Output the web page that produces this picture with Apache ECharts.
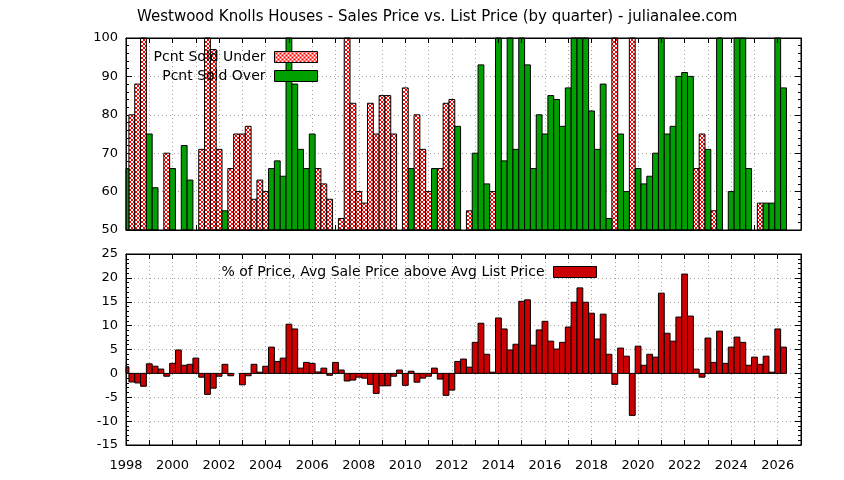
<!DOCTYPE html>
<html><head><meta charset="utf-8">
<script src="https://cdn.jsdelivr.net/npm/echarts@6/dist/echarts.min.js"></script>
<style>html,body{margin:0;padding:0;background:#fff}#c{width:844px;height:480px}</style>
</head><body><div id="c"></div>
<script>
// ---- data (one entry per quarter, starting 1998 Q1) ----
const startYear = 1998;
const endYear = 2027;
const quartersPerYear = 4;
const titleText = 'Westwood Knolls Houses - Sales Price vs. List Price (by quarter) - julianalee.com';
const nameUnder = 'Pcnt Sold Under';
const nameOver = 'Pcnt Sold Over';
const namePct = '% of Price, Avg Sale Price above Avg List Price';

const soldUnder = [
  null, 80, 88, 100, null, null, null, 70, null, null,
  null, null, null, 71, 100, 97, 71, null, 66, 75,
  75, 77, 58, 63, 60, null, null, null, null, null,
  null, null, null, 66, 62, 58, null, 53, 100, 83,
  60, 57, 83, 75, 85, 85, 75, null, 87, null,
  80, 71, 60, null, 66, 83, 84, null, null, 55,
  null, null, null, 60, null, null, null, null, null, null,
  null, null, null, null, null, null, null, null, null, null,
  null, null, null, null, 100, null, null, 100, null, null,
  null, null, null, null, null, null, null, null, 66, 75,
  null, 55, null, null, null, null, null, null, null, 57,
  null, null, null, null
];
const soldOver = [
  66, null, null, null, 75, 61, null, null, 66, null,
  72, 63, null, null, null, null, null, 55, null, null,
  null, null, null, null, null, 66, 68, 64, 100, 88,
  71, 66, 75, null, null, null, null, null, null, null,
  null, null, null, null, null, null, null, null, null, 66,
  null, null, null, 66, null, null, null, 77, null, null,
  70, 93, 62, null, 100, 68, 100, 71, 100, 93,
  66, 80, 75, 85, 84, 77, 87, 100, 100, 100,
  81, 71, 88, 53, null, 75, 60, null, 66, 62,
  64, 70, 100, 75, 77, 90, 91, 90, null, null,
  71, null, 100, null, 60, 100, 100, 66, null, null,
  57, 57, 100, 87
];
const pctAbove = [
  1.4, -1.8, -2.0, -2.7, 2.0, 1.5, 0.9, -0.6, 2.1, 4.9,
  1.7, 1.9, 3.2, -0.8, -4.4, -3.1, -0.6, 1.9, -0.5, null,
  -2.4, -0.5, 1.9, 0.25, 1.5, 5.5, 2.5, 3.2, 10.3, 9.3,
  1.1, 2.3, 2.1, 0.3, 1.1, -0.4, 2.3, 0.7, -1.6, -1.4,
  -0.8, -1.0, -2.3, -4.2, -2.6, -2.6, -0.6, 0.7, -2.5, 0.45,
  -1.85, -1.0, -0.6, 1.1, -1.2, -4.6, -3.5, 2.5, 3.0, 1.3,
  6.5, 10.5, 4.0, 0.25, 11.6, 9.3, 4.9, 6.1, 15.1, 15.4,
  5.9, 9.1, 10.9, 6.75, 5.1, 6.5, 9.7, 14.9, 17.9, 14.9,
  12.6, 7.2, 12.4, 4.0, -2.3, 5.3, 3.6, -8.8, 5.7, 1.7,
  4.0, 3.4, 16.8, 8.4, 6.75, 11.8, 20.8, 12.0, 0.9, -0.8,
  7.4, 2.3, 8.85, 2.1, 5.5, 7.6, 6.5, 1.7, 3.4, 1.9,
  3.6, 0.25, 9.3, 5.5
];

// ---- styling ----
const FONT = 'DejaVu Sans';
const FS = 13;
const W = 844, H = 480;
const gridLeft = 126, gridRight = 43;
const halfBox = 0.5 / quartersPerYear;

function hatch() {
  const c = document.createElement('canvas');
  c.width = 4; c.height = 4;
  const g = c.getContext('2d');
  g.fillStyle = '#ffffff'; g.fillRect(0, 0, 4, 4);
  g.fillStyle = '#ff0000';
  for (let i = 0; i < 4; i++) { g.fillRect(i, i, 1, 1); g.fillRect(3 - i, i, 1, 1); }
  return c;
}
const pinkFill = { image: hatch(), repeat: 'repeat' };

const toPairs = arr => arr.map((v, i) => [startYear + i / quartersPerYear, v]).filter(p => p[1] != null);

// gnuplot-style boxes: one quarter wide, from base to value, clipped to the plot
function boxes(base) {
  return function (params, api) {
    const x = api.value(0), y = api.value(1);
    if (y == null || isNaN(y)) return;
    const a = api.coord([x - halfBox, y]);
    const b = api.coord([x + halfBox, base]);
    const cs = params.coordSys;
    const r = echarts.graphic.clipRectByRect(
      { x: a[0], y: Math.min(a[1], b[1]), width: b[0] - a[0], height: Math.abs(b[1] - a[1]) },
      { x: cs.x, y: cs.y, width: cs.width, height: cs.height });
    if (!r) return;
    return { type: 'rect', shape: r, style: api.style() };
  };
}

const gridLine = { show: true, lineStyle: { color: '#a0a0a0', type: [1, 3], width: 1 } };
const txt = { color: '#000', fontFamily: FONT, fontSize: FS };

function xAxes(gridIndex, showLabels) {
  return [
    { type: 'value', gridIndex, position: 'bottom', min: startYear, max: endYear, interval: 1,
      axisLine: { show: true, onZero: false, lineStyle: { color: '#000' } },
      axisTick: { show: true, inside: true, length: 5, lineStyle: { color: '#000' } },
      axisLabel: { show: showLabels, margin: 14, ...txt, showMaxLabel: false,
        formatter: v => (v % 2 === 0 ? String(v) : '') },
      splitLine: gridLine, z: 0 },
    { type: 'value', gridIndex, position: 'top', min: startYear, max: endYear, interval: 1,
      axisLine: { show: true, onZero: false, lineStyle: { color: '#000' } },
      axisTick: { show: true, inside: true, length: 5, lineStyle: { color: '#000' } },
      axisLabel: { show: false }, splitLine: { show: false }, z: 5 }
  ];
}
function yAxes(gridIndex, min, max, interval) {
  return [
    { type: 'value', gridIndex, position: 'left', min, max, interval,
      axisLine: { show: true, onZero: false, lineStyle: { color: '#000' } },
      axisTick: { show: true, inside: true, length: 6, lineStyle: { color: '#000' } },
      minorTick: { show: true, splitNumber: 5, length: 3, lineStyle: { color: '#000' } },
      axisLabel: { ...txt, margin: 8 },
      splitLine: gridLine, z: 0 },
    { type: 'value', gridIndex, position: 'right', min, max, interval,
      axisLine: { show: true, onZero: false, lineStyle: { color: '#000' } },
      axisTick: { show: true, inside: true, length: 6, lineStyle: { color: '#000' } },
      minorTick: { show: true, splitNumber: 5, length: 3, lineStyle: { color: '#000' } },
      axisLabel: { show: false }, splitLine: { show: false }, z: 5 }
  ];
}
const legendBase = { align: 'right', orient: 'vertical', padding: 0, icon: 'rect',
  itemWidth: 43, itemHeight: 11, selectedMode: false,
  textStyle: { ...txt, fontSize: 14, padding: [0, 4, 0, 0] },
  itemStyle: { borderColor: '#000', borderWidth: 1 } };

const chart = echarts.init(document.getElementById('c'), null, { renderer: 'canvas' });
chart.setOption({
  animation: false,
  backgroundColor: '#fff',
  textStyle: { fontFamily: FONT },
  title: { text: titleText, left: 137, top: 10, padding: 0,
    textStyle: { ...txt, fontSize: 15, fontWeight: 'normal' } },
  grid: [
    { left: gridLeft, right: gridRight, top: 38, height: 192, show: true, z: 10,
      backgroundColor: 'transparent', borderColor: '#000', borderWidth: 1 },
    { left: gridLeft, right: gridRight, top: 254, height: 191, show: true, z: 10,
      backgroundColor: 'transparent', borderColor: '#000', borderWidth: 1 }
  ],
  legend: [
    { ...legendBase, data: [nameUnder], right: W - 318, top: 50 },
    { ...legendBase, data: [nameOver], right: W - 318, top: 69 },
    { ...legendBase, data: [namePct], right: W - 597, top: 265 }
  ],
  xAxis: [...xAxes(0, false), ...xAxes(1, true)],
  yAxis: [...yAxes(0, 50, 100, 10), ...yAxes(1, -15, 25, 5)],
  series: [
    { name: nameUnder, type: 'custom', xAxisIndex: 0, yAxisIndex: 0, data: toPairs(soldUnder),
      encode: { x: 0, y: 1 }, renderItem: boxes(0),
      itemStyle: { color: pinkFill, borderColor: '#000', borderWidth: 1 } },
    { name: nameOver, type: 'custom', xAxisIndex: 0, yAxisIndex: 0, data: toPairs(soldOver),
      encode: { x: 0, y: 1 }, renderItem: boxes(0),
      itemStyle: { color: '#00a000', borderColor: '#000', borderWidth: 1 } },
    { name: namePct, type: 'custom', xAxisIndex: 2, yAxisIndex: 2, data: toPairs(pctAbove),
      encode: { x: 0, y: 1 }, renderItem: boxes(0),
      itemStyle: { color: '#cc0000', borderColor: '#000', borderWidth: 1 } }
  ]
});
</script></body></html>
